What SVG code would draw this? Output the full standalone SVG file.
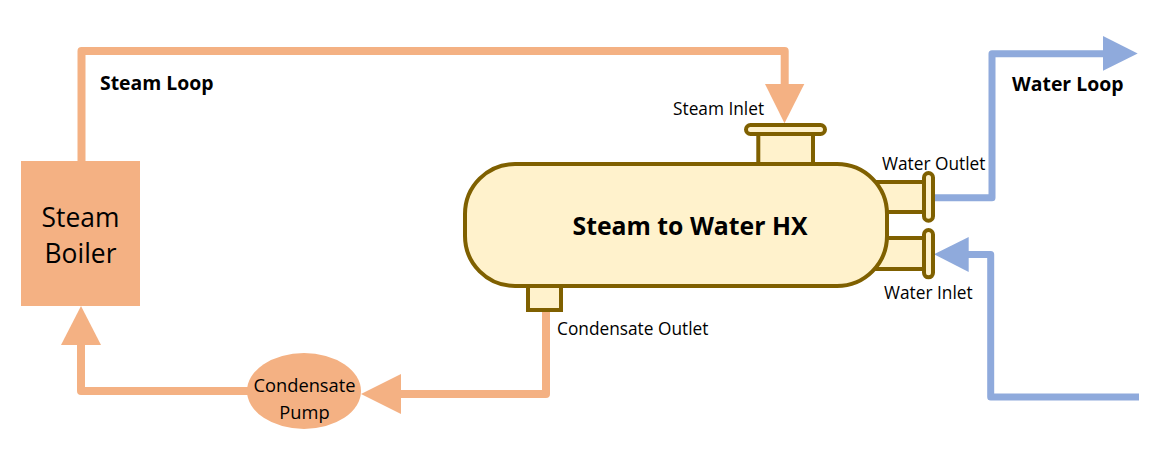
<svg xmlns="http://www.w3.org/2000/svg" width="1171" height="452" viewBox="0 0 1171 452">
<style>
text{font-family:"Open Sans","Noto Sans","Liberation Sans",sans-serif;fill:#000}
.b{font-weight:700}
.sl{fill:none;stroke:#f4b183;stroke-width:8;stroke-linejoin:round}
.wl{fill:none;stroke:#8faadc;stroke-width:7;stroke-linejoin:round}
.sh{fill:#f4b183}
.wh{fill:#8faadc}
.v{fill:#fff2cc;stroke:#7f6000;stroke-width:4}
.l{font-size:17.300px}
</style>
<rect width="1171" height="452" fill="#fff"/>
<g id="connectors">
<path class="sl" d="M81.500 161V51H784.700V90"/>
<polygon class="sh" points="765,84 804.300,84 784.500,123.300"/>
<path class="sl" d="M546 311V394H400"/>
<polygon class="sh" points="361,394 401,374 401,414"/>
<path class="sl" d="M248 391H81V340"/>
<polygon class="sh" points="81,306 101,345 61,345"/>
<path class="wl" d="M933 197.700H992V53.700H1108"/>
<polygon class="wh" points="1103,36 1137.700,53.400 1103,70.700"/>
<path class="wl" d="M1139 397H990.700V254.500H965"/>
<polygon class="wh" points="934,254.300 968.700,237 968.700,272"/>
</g>
<g id="hx">
<rect class="v" x="758.300" y="130" width="54.700" height="40"/>
<rect class="v" x="746" y="125" width="79" height="9" rx="4.500"/>
<rect class="v" x="870" y="182" width="56" height="30"/>
<rect class="v" x="870" y="238" width="56" height="31"/>
<rect class="v" x="924" y="173" width="9" height="47.700" rx="4.500"/>
<rect class="v" x="924" y="230" width="9" height="47.300" rx="4.500"/>
<rect class="v" x="528" y="280" width="33" height="30"/>
<rect class="v" x="465" y="164" width="422" height="122" rx="50"/>
<text class="b" x="690" y="235" font-size="24.800" text-anchor="middle">Steam to Water HX</text>
</g>
<g id="boiler">
<rect class="sh" x="21" y="161" width="119" height="145"/>
<text x="80.500" y="227" font-size="26.400" text-anchor="middle">Steam</text>
<text x="80.500" y="263" font-size="26.400" text-anchor="middle">Boiler</text>
</g>
<g id="pump">
<ellipse class="sh" cx="304" cy="391" rx="57" ry="38"/>
<text x="304.500" y="392" font-size="18.300" text-anchor="middle">Condensate</text>
<text x="304.500" y="419" font-size="18.300" text-anchor="middle">Pump</text>
</g>
<g id="labels">
<text class="b" x="100" y="90" font-size="19.400">Steam Loop</text>
<text class="b" x="1012" y="91" font-size="19.400">Water Loop</text>
<text class="l" x="673" y="115">Steam Inlet</text>
<text class="l" x="882" y="170">Water Outlet</text>
<text class="l" x="884" y="299">Water Inlet</text>
<text class="l" x="557" y="335">Condensate Outlet</text>
</g>
</svg>
